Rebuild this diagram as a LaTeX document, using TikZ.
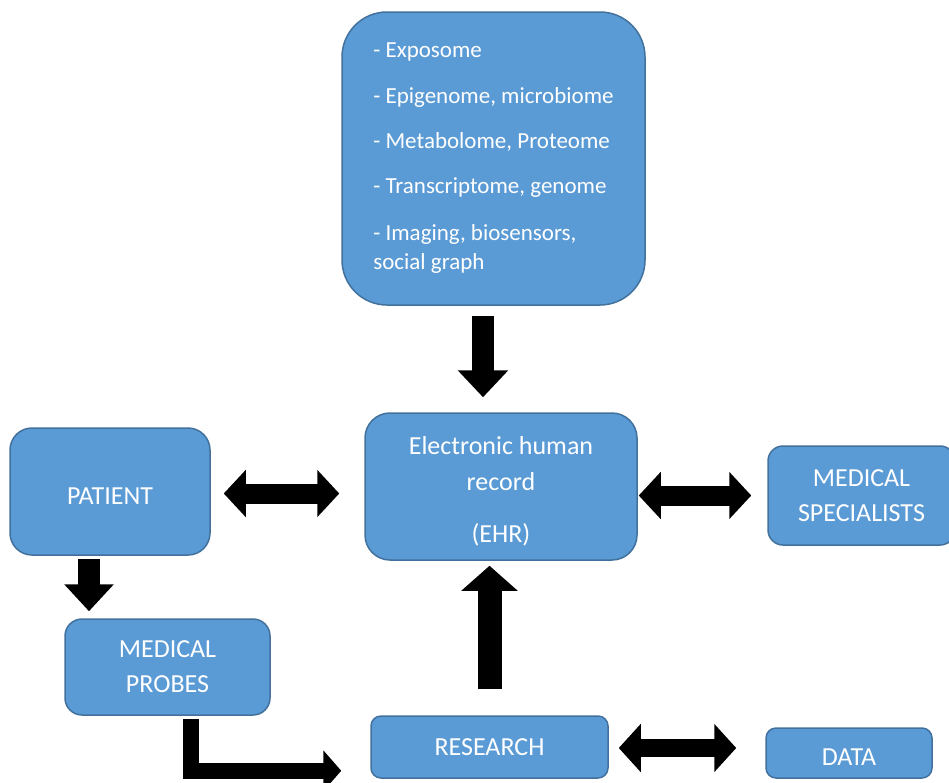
\documentclass[tikz,border=0pt]{standalone}
\usepackage{fontspec}
\setmainfont{Carlito}
\usepackage{xcolor}
\usepackage{tikz}
\usetikzlibrary{arrows.meta, positioning}

\definecolor{boxblue}{HTML}{5B9BD5}
\definecolor{boxedge}{HTML}{41719C}

\begin{document}
\begin{tikzpicture}[
    x=1pt, y=1pt,
    box/.style={rectangle, draw=boxedge, line width=1.5pt, fill=boxblue, text=white, align=center, inner sep=0pt, font=\fontsize{26}{35}\selectfont},
    bigarrow/.style={draw=black, line width=22pt, -{Triangle[length=27pt, width=49pt]}},
    twoarrow/.style={draw=black, line width=20pt, {Triangle[length=22pt, width=46pt]}-{Triangle[length=22pt, width=46pt]}},
]
\useasboundingbox (0,0) rectangle (949,-782);

% Omics box at top
\node[box, rounded corners=45pt, minimum width=303pt, minimum height=293pt, align=left, font=\fontsize{23}{29}\selectfont] (omics) at (493.5,-158.5) {%
- Exposome\\[17pt]
- Epigenome, microbiome\\[16pt]
- Metabolome, Proteome\\[16pt]
- Transcriptome, genome\\[18pt]
- Imaging, biosensors,\\
social graph\hspace*{3pt}};

% EHR in the middle
\node[box, rounded corners=25pt, minimum width=272pt, minimum height=147pt, font=\fontsize{26}{36}\selectfont] (ehr) at (501,-486.5) {\rule{0pt}{28pt}Electronic human\\record\\[16pt](EHR)};

% Side boxes
\node[box, rounded corners=22pt, minimum width=200pt, minimum height=127pt] (patient) at (110,-491.5) {\rule{0pt}{26pt}PATIENT};
\node[box, rounded corners=15pt, minimum width=187pt, minimum height=99pt] (spec) at (861.5,-495.5) {MEDICAL\\SPECIALISTS};
\node[box, rounded corners=17pt, minimum width=205pt, minimum height=96pt] (probes) at (167.5,-667) {MEDICAL\\PROBES};
\node[box, rounded corners=10pt, minimum width=237pt, minimum height=62pt] (research) at (489.5,-747) {RESEARCH};
\node[box, rounded corners=10pt, minimum width=166pt, minimum height=50pt] (data) at (849,-753) {\rule{0pt}{24pt}DATA};

% Block arrows
\draw[bigarrow, shorten <=10pt, shorten >=15pt] ([xshift=-10.5pt]omics.south) -- ([xshift=-10.5pt]omics.south |- ehr.north);
\draw[twoarrow, shorten <=13pt, shorten >=25pt] ([yshift=-2pt]patient.east) -- ([yshift=-2pt]patient.east -| ehr.west);
\draw[twoarrow, shorten <=1pt, shorten >=16pt] (ehr.east |- spec.west) -- (spec.west);
\draw[draw=black, line width=22pt, -{Triangle[length=27pt, width=48pt]}, shorten <=3pt, shorten >=7pt] ([xshift=-21pt]patient.south) -- ([xshift=-21pt]patient.south |- probes.north);
\draw[bigarrow, line width=24pt, -{Triangle[length=25pt, width=55pt]}, shorten <=26pt, shorten >=5pt] (research.north) -- (research.north |- ehr.south);
\draw[draw=black, line width=16pt, line join=miter, -{Triangle[length=18pt, width=40pt]}, shorten <=3pt] ([xshift=23pt]probes.south) |- ([xshift=-29pt, yshift=8pt]research.south west);
\draw[draw=black, line width=18pt, {Triangle[length=22pt, width=47pt]}-{Triangle[length=22pt, width=47pt]}, shorten <=10pt, shorten >=29pt] ([yshift=-1pt]research.east) -- ([yshift=-1pt]research.east -| data.west);

\end{tikzpicture}
\end{document}
